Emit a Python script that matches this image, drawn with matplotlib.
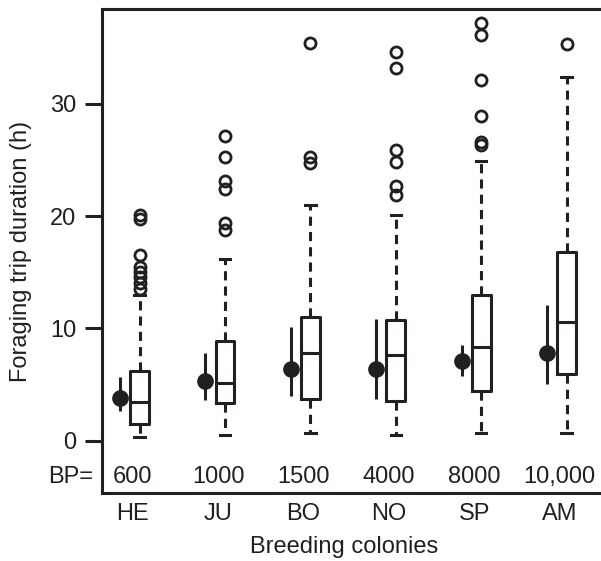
import matplotlib
matplotlib.use("Agg")
import matplotlib.pyplot as plt

plt.rcParams['font.family'] = ['Liberation Sans', 'DejaVu Sans']

# ---- data ----
colonies = ["HE", "JU", "BO", "NO", "SP", "AM"]
bp_labels = ["600", "1000", "1500", "4000", "8000", "10,000"]
q1 = [1.5, 3.3, 3.7, 3.5, 4.4, 5.9]
median = [3.4, 5.1, 7.8, 7.6, 8.3, 10.6]
q3 = [6.2, 8.9, 11.0, 10.7, 13.0, 16.8]
whisk_lo = [0.35, 0.5, 0.65, 0.5, 0.65, 0.65]
whisk_hi = [13.0, 16.2, 21.0, 20.1, 24.9, 32.4]
outliers = [
    [20.1, 19.7, 16.5, 15.5, 15.0, 14.6, 14.0, 13.5],
    [27.1, 25.3, 23.1, 22.4, 19.4, 18.8],
    [35.4, 25.3, 24.7],
    [34.6, 33.2, 25.9, 24.8, 22.7, 21.9],
    [37.2, 36.1, 32.1, 28.9, 26.6, 26.3],
    [35.3],
]
mean_vals = [3.8, 5.3, 6.35, 6.35, 7.1, 7.8]
ci_lo = [2.6, 3.6, 4.0, 3.7, 5.75, 5.0]
ci_hi = [5.7, 7.8, 10.1, 10.8, 8.5, 12.1]

ink = '#231f20'
FS = 17
W, H = 601, 561
fig = plt.figure(figsize=(W / 100, H / 100), dpi=100)
ax = fig.add_axes([102 / W, (H - 493) / H, (604 - 102) / W, (493 - 9) / H])

centers = list(range(1, len(colonies) + 1))
box_pos = [c + 0.08 for c in centers]
dot_pos = [c - 0.15 for c in centers]

stats = []
for i in range(len(colonies)):
    stats.append(dict(med=median[i], q1=q1[i], q3=q3[i],
                      whislo=whisk_lo[i], whishi=whisk_hi[i],
                      fliers=outliers[i], label=colonies[i]))

lw = 2.2
ax.bxp(stats, positions=box_pos, widths=0.22, capwidths=0.12,
       boxprops=dict(color=ink, linewidth=lw),
       medianprops=dict(color=ink, linewidth=lw),
       whiskerprops=dict(color=ink, linewidth=lw, linestyle=(0, (3.0, 2.0)),
                         dash_capstyle='butt'),
       capprops=dict(color=ink, linewidth=lw),
       flierprops=dict(marker='o', markerfacecolor='none', markeredgecolor=ink,
                       markersize=8, markeredgewidth=2.0),
       manage_ticks=False)

for i in range(len(colonies)):
    ax.plot([dot_pos[i], dot_pos[i]], [ci_lo[i], ci_hi[i]], color=ink, lw=lw,
            solid_capstyle='butt')
    ax.plot([dot_pos[i]], [mean_vals[i]], 'o', color=ink, markersize=11)
    ax.text(centers[i], -3.23, bp_labels[i], ha='center', va='center',
            fontsize=FS, color=ink)

ax.set_xlim(0.64, 0.64 + (604 - 102) / 85.4)
ax.set_ylim((440.5 - 493) / 11.22, (440.5 - 9) / 11.22)

ax.set_yticks([0, 10, 20, 30])
ax.set_xticks(centers)
ax.set_xticklabels(colonies)
ax.tick_params(axis='y', length=12.5, width=lw, pad=6, labelsize=FS,
               color=ink, labelcolor=ink, direction='out')
ax.tick_params(axis='x', length=0, pad=7.5, labelsize=FS, labelcolor=ink)

for s in ['left', 'top', 'bottom']:
    ax.spines[s].set_linewidth(lw)
    ax.spines[s].set_color(ink)
ax.spines['right'].set_visible(False)

fig.text(93 / W, 1 - 476.7 / H, 'BP=', ha='right', va='center', fontsize=FS,
         color=ink)
fig.text(344 / W, 1 - 546.7 / H, 'Breeding colonies', ha='center', va='center',
         fontsize=FS, color=ink)
fig.text(21 / W, 1 - 251 / H, 'Foraging trip duration (h)', ha='center',
         va='center', rotation=90, fontsize=FS, color=ink)

fig.savefig('out.png', dpi=100)
